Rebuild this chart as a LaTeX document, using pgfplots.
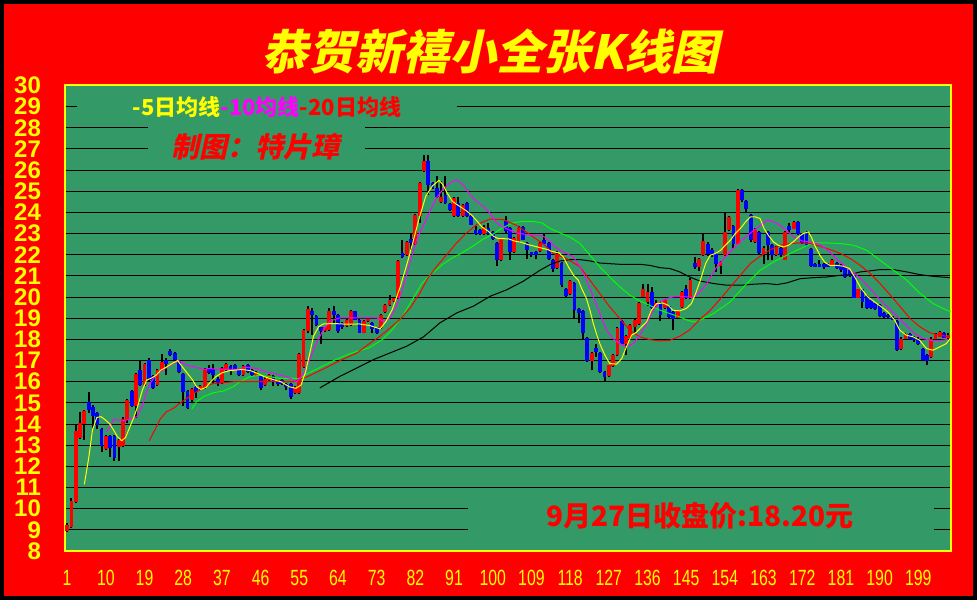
\documentclass[border=0pt]{standalone}
\usepackage{fontspec}
\usepackage{pgfplots}
\usepackage{pgfplotstable}
\pgfplotsset{compat=1.18}
\setmainfont{Liberation Sans}
\newfontfamily\narrowfont[FakeStretch=0.72]{Liberation Sans}
\newfontfamily\cjk{Noto Sans CJK SC}
\newfontfamily\cjkslant[FakeSlant=0.22]{Noto Sans CJK SC}
\definecolor{bgred}{RGB}{255,0,0}
\definecolor{plotgreen}{RGB}{51,153,102}
\definecolor{ylw}{RGB}{255,255,0}
\definecolor{mag}{RGB}{255,0,255}
\definecolor{lgreen}{RGB}{0,255,0}
\definecolor{cblue}{RGB}{0,0,255}

\pgfplotstableread{
n O H L C
1 8.95 9.30 8.90 9.25
2 9.15 10.50 9.10 10.35
3 10.30 13.95 10.25 13.65
4 13.35 14.55 13.30 14.05
5 14.00 14.65 13.25 14.60
6 15.05 15.50 14.50 14.65
7 14.80 14.90 13.80 14.40
8 14.50 14.55 13.75 13.95
9 13.75 13.80 12.70 12.95
10 12.80 13.50 12.75 13.45
11 13.45 13.50 12.45 12.85
12 13.45 13.50 12.25 12.40
13 12.90 13.30 12.25 13.25
14 12.95 14.35 12.90 14.25
15 14.20 15.20 14.05 15.15
16 15.55 15.60 14.80 14.85
17 14.85 16.40 14.30 16.35
18 16.55 17.00 15.80 15.85
19 15.85 16.90 15.80 16.85
20 17.05 17.10 16.05 16.10
21 16.25 16.30 15.65 15.70
22 15.85 16.60 15.80 16.55
23 16.55 17.30 16.50 16.95
24 17.05 17.10 16.30 16.85
25 17.45 17.55 17.20 17.25
26 17.35 17.40 17.00 17.05
27 17.00 17.05 16.40 16.45
28 16.35 16.40 14.85 15.50
29 15.55 15.60 14.70 14.75
30 15.15 15.70 15.00 15.65
31 15.75 15.80 15.25 15.50
32 15.65 15.85 15.60 15.80
33 15.70 16.65 15.65 16.60
34 16.65 16.80 16.35 16.40
35 16.60 16.85 15.95 16.30
36 16.15 16.20 15.80 15.95
37 15.95 16.70 15.90 16.65
38 16.55 16.90 16.50 16.85
39 16.75 16.80 16.30 16.50
40 16.80 16.85 16.55 16.60
41 16.55 16.60 16.25 16.30
42 16.30 16.80 16.25 16.75
43 16.80 16.85 16.40 16.45
44 16.55 16.60 16.25 16.30
45 16.30 16.50 16.25 16.45
46 16.25 16.30 15.60 15.70
47 15.85 16.20 15.80 16.15
48 16.10 16.35 16.05 16.30
49 16.25 16.30 15.80 16.00
50 16.05 16.10 15.80 15.90
51 16.10 16.15 15.85 15.90
52 15.90 15.95 15.60 15.75
53 15.90 15.95 15.20 15.30
54 15.45 15.80 15.40 15.75
55 15.45 17.35 15.40 17.30
56 16.70 18.50 16.65 18.45
57 18.39 19.57 18.30 19.44
58 19.33 19.50 18.23 19.14
59 19.09 19.15 18.62 18.70
60 18.57 18.60 17.80 18.39
61 18.39 18.60 18.35 18.57
62 18.46 19.49 18.40 19.33
63 19.33 19.57 18.78 19.17
64 19.17 19.20 18.31 18.39
65 18.78 18.80 18.50 18.59
66 18.62 19.00 18.60 18.94
67 18.70 19.40 18.65 19.33
68 19.33 19.35 18.90 18.94
69 18.94 18.95 18.30 18.31
70 18.31 18.90 18.30 18.86
71 18.86 19.00 18.80 18.98
72 18.78 18.80 18.31 18.50
73 18.57 18.60 18.25 18.31
74 18.54 19.20 18.50 19.17
75 19.28 19.65 19.25 19.61
76 19.61 20.12 19.60 19.88
77 19.80 20.00 19.75 19.96
78 19.96 21.75 19.90 21.69
79 22.09 22.72 21.85 21.90
80 22.00 22.65 21.95 22.59
81 22.75 23.03 22.24 22.56
82 22.51 23.95 22.45 23.90
83 23.82 25.45 23.50 25.39
84 25.94 26.73 25.90 26.42
85 26.42 26.73 24.84 25.31
86 25.39 25.45 25.10 25.16
87 25.16 25.71 24.70 24.73
88 24.48 25.47 24.45 24.73
89 24.84 25.74 24.40 24.45
90 24.40 24.45 24.05 24.10
91 23.82 24.75 23.80 24.69
92 24.45 24.73 23.80 23.85
93 23.85 24.40 23.80 24.37
94 24.45 24.50 23.80 23.85
95 23.85 23.90 23.40 23.43
96 23.16 23.35 22.95 22.97
97 23.16 23.20 22.95 22.97
98 23.00 23.43 22.95 23.31
99 23.27 23.50 22.95 23.00
100 23.06 23.10 22.70 22.76
101 22.56 22.60 21.49 21.77
102 21.77 22.80 21.70 22.75
103 23.58 23.82 23.05 23.10
104 23.27 23.30 21.77 22.12
105 22.12 22.85 22.10 22.80
106 22.64 23.38 22.60 23.27
107 23.31 23.35 22.70 22.72
108 22.56 22.60 21.80 22.21
109 22.12 22.15 21.90 21.98
110 22.15 22.20 21.80 21.98
111 22.20 22.60 22.15 22.56
112 22.72 22.97 22.50 22.53
113 22.56 22.60 21.75 21.80
114 21.74 21.80 21.19 21.35
115 21.38 22.20 21.35 22.05
116 21.60 21.65 20.50 20.56
117 20.40 20.45 20.00 20.04
118 20.13 20.80 20.10 20.75
119 20.67 20.70 18.98 19.38
120 19.46 19.50 18.78 19.25
121 19.35 19.40 18.04 18.28
122 18.07 18.10 16.95 16.98
123 16.98 17.40 16.54 17.36
124 17.60 17.80 17.17 17.41
125 17.36 17.40 16.40 16.46
126 16.46 16.50 15.99 16.20
127 16.26 16.80 16.20 16.78
128 16.73 17.30 16.70 17.25
129 17.25 18.60 17.20 18.54
130 18.86 18.90 17.75 17.80
131 17.80 18.20 17.25 18.15
132 18.07 18.75 18.00 18.70
133 18.59 19.00 18.30 18.94
134 18.75 19.75 18.70 19.70
135 20.00 20.60 19.95 20.37
136 19.77 20.60 19.60 20.24
137 20.24 20.50 19.45 19.50
138 19.60 19.85 19.55 19.70
139 19.70 19.75 18.87 19.14
140 19.50 19.90 19.45 19.85
141 19.57 19.60 19.00 19.06
142 19.30 19.35 18.43 18.98
143 19.00 19.40 18.95 19.38
144 19.54 20.30 19.50 20.24
145 20.37 20.55 19.90 19.96
146 19.96 20.90 19.90 20.83
147 21.60 21.90 21.35 21.40
148 21.40 21.85 21.25 21.80
149 22.00 22.97 21.95 22.64
150 22.53 22.60 21.95 22.02
151 22.24 22.30 21.90 21.98
152 22.05 22.10 21.20 21.55
153 21.47 21.70 21.08 21.66
154 22.00 23.98 21.95 23.08
155 23.16 23.85 23.10 23.79
156 23.35 23.40 22.30 22.53
157 22.53 25.10 22.50 25.05
158 25.05 25.10 24.50 24.57
159 24.53 24.60 24.02 24.18
160 23.87 23.95 22.60 22.69
161 22.60 23.25 22.55 23.19
162 23.08 23.10 22.05 22.09
163 22.06 22.40 21.58 22.34
164 23.08 23.10 21.74 22.45
165 22.45 22.50 21.76 21.98
166 21.98 22.40 21.95 22.37
167 22.30 22.35 21.90 21.98
168 21.77 23.10 21.75 23.08
169 23.35 23.50 23.00 23.16
170 23.24 23.60 23.20 23.55
171 23.55 23.60 22.95 23.00
172 23.00 23.05 22.50 22.56
173 23.08 23.10 22.40 22.45
174 22.26 22.30 21.40 21.46
175 21.58 21.60 21.40 21.43
176 21.58 21.75 21.40 21.43
177 21.55 21.60 21.35 21.40
178 21.58 21.60 21.40 21.43
179 21.50 21.80 21.45 21.74
180 21.61 21.65 21.35 21.39
181 21.50 21.55 21.20 21.27
182 21.43 21.45 20.90 20.95
183 21.27 21.30 20.95 20.98
184 21.03 21.05 19.95 19.98
185 19.98 20.40 19.95 20.37
186 20.37 20.40 19.50 19.77
187 20.04 20.10 19.45 19.50
188 19.85 19.90 19.45 19.50
189 19.70 19.75 19.40 19.46
190 19.61 19.65 19.05 19.11
191 19.25 19.30 19.00 19.06
192 19.14 19.20 19.00 19.06
193 19.06 19.10 18.90 18.94
194 18.86 18.90 17.45 17.49
195 17.57 18.10 17.50 18.04
196 18.04 18.30 18.00 18.24
197 18.24 18.30 18.00 18.04
198 18.12 18.15 17.90 17.96
199 18.04 18.10 17.75 17.80
200 17.54 17.60 17.00 17.02
201 17.25 17.30 16.78 16.98
202 17.17 18.10 17.10 18.04
203 18.04 18.30 18.00 18.27
204 18.12 18.40 18.10 18.35
205 18.30 18.35 18.05 18.09
206 18.05 18.30 18.00 18.20
}\kdata

\pgfplotstableread{
x y
5 11.15
6 12.38
6.9 13.72
7.9 14.31
8.9 14.35
9.9 14.19
10.8 14.03
11.8 13.72
12.7 13.40
13.7 13.21
14.6 13.37
15.6 13.87
16.5 14.31
17.5 14.90
18.5 15.60
19.5 16.08
20.5 16.16
21.7 16.31
22.8 16.55
24 16.68
25.5 16.87
26.7 17.00
27.8 16.70
29 16.39
30.2 16.08
31.1 15.76
32.1 15.64
33.3 15.73
34.4 16.00
35.6 16.24
37.1 16.43
38.7 16.52
40.2 16.55
41.8 16.58
43.7 16.52
45.3 16.39
46.8 16.24
48.8 16.11
50.7 16.00
52.7 15.76
54.2 15.69
55.4 15.84
56.5 16.50
57.5 17.40
58.3 18.15
59.5 18.60
60.6 18.73
63 18.75
66 18.72
69 18.73
71.5 18.65
73.8 18.50
75.2 18.86
76.6 19.40
78.5 20.50
80.1 21.60
81.6 22.72
82.8 23.66
84.4 24.76
85.9 25.24
87.5 25.52
88.4 25.31
89.4 24.92
90.6 24.53
91.7 24.37
92.9 24.21
94 24.06
95.2 23.85
96.4 23.58
97.5 23.31
99 23.11
100.2 22.87
101.3 22.76
102.5 22.76
103.7 22.75
105.2 22.64
106.5 22.60
108.2 22.48
109.8 22.40
111.3 22.32
112.9 22.24
113.4 22.18
115.4 22.09
116.4 21.90
117.6 21.43
118.8 21.03
119.9 20.80
120.7 20.40
121.8 19.93
122.6 19.38
123.4 18.75
124.1 18.28
124.9 17.80
126.1 17.25
127.2 16.86
128.8 16.83
130 17.09
131.1 17.65
132.3 18.20
133.5 18.35
134.6 18.59
135.8 18.83
136.9 19.38
138.1 19.69
139.6 19.72
140.8 19.61
141.9 19.38
143.5 19.35
145 19.46
146.2 19.69
147.2 20.17
148.3 20.80
149.5 21.58
150.6 21.98
151.8 22.06
153 22.21
154.1 22.45
155.3 22.69
156.4 23.00
157.6 23.24
158.8 23.55
159.9 23.79
161.1 23.79
162.2 23.71
163.1 23.24
164.1 22.92
165.3 22.61
166.4 22.45
167.6 22.37
168.8 22.45
169.9 22.61
171.1 22.84
172.2 23.00
173.4 23.08
174.1 22.84
174.9 22.45
176.1 21.98
177.2 21.66
178.4 21.50
179.9 21.50
181.5 21.46
183 21.35
184.2 20.95
185.7 20.40
187.3 20.00
188.8 19.77
190.4 19.54
191.9 19.30
193.5 18.91
194.7 18.43
196.2 18.20
197.8 18.12
199.3 17.96
200.9 17.57
202.4 17.49
204 17.65
205.5 17.80
206.4 18.04
}\maA

\pgfplotstableread{
x y
10.1 13.64
11 13.87
11.8 14.22
12.9 14.19
14.4 14.16
16 14.27
17.2 14.35
18.4 14.82
19.4 15.45
20.3 15.92
21.5 16.27
22.6 16.47
24.2 16.68
25.7 16.87
26.9 17.00
28 16.87
29.6 16.74
31.1 16.68
32.7 16.58
34.2 16.63
35.7 16.58
38 16.58
40.4 16.58
42.7 16.68
45 16.63
47.3 16.47
49.7 16.36
52 16.24
54.4 16.00
55.9 16.35
57.4 17.05
59 17.83
60.6 18.46
62.1 18.86
64.4 19.02
66.8 19.02
69.1 19.02
71.4 19.02
73 19.02
74.5 18.86
76.1 19.02
77.6 19.57
79.2 20.51
80.7 21.61
82.3 22.72
83.8 23.35
85.4 24.06
86.9 24.69
88.5 25.11
90 25.39
91.6 25.55
93.1 25.31
94.7 24.84
96.2 24.53
97.8 24.29
99.3 23.98
100.9 23.50
102.4 23.31
104 23.16
105.5 23.03
107.1 22.98
108.6 22.95
110.2 22.92
111.7 22.88
113.2 22.66
114.1 22.45
115.6 22.21
117.2 22.06
118.7 21.90
120.3 21.43
121.8 20.80
123.4 20.01
124.9 19.22
126.5 18.43
128 18.04
129.6 17.80
131.1 17.65
132.7 17.80
134.2 18.20
135.8 18.75
137.3 19.38
138.9 19.77
140.4 19.93
142 20.01
143.5 20.04
145.1 20.01
146.6 19.98
148.2 20.24
150 20.70
152 21.40
155 22.10
158 22.70
161 23.20
164 23.65
166 23.50
168 23.20
170 22.85
172 22.65
174 22.60
176 22.50
178 22.20
180 21.80
182 21.45
184 21.15
186 20.80
188 20.35
190 19.90
192 19.50
194 19.10
196 18.70
198 18.30
200 18.05
202 17.95
204 17.95
206 18.00
}\maB

\pgfplotstableread{
x y
20.1 13.21
21.4 13.72
22.6 14.22
24.1 14.58
25.7 14.74
27.2 14.98
28.8 15.21
30.3 15.45
31.9 15.61
33.4 15.80
35 15.92
37.3 15.95
39.6 16.00
41.9 16.00
44.2 16.00
46.6 16.00
48.9 16.00
51.2 16.00
53.6 16.00
57 16.25
60.6 16.60
64.5 17.00
68.4 17.36
71.5 17.83
73.8 18.15
76.1 18.54
78.4 18.94
80.8 19.49
83.1 20.20
84.7 20.83
87 21.46
89.3 22.01
91.6 22.56
93.9 23.03
96.3 23.43
99.4 23.69
102.5 23.66
105.6 23.38
108.7 22.95
111.8 22.50
114.1 22.06
117.2 21.82
120.3 21.43
122.6 20.80
124.9 20.17
127.2 19.54
129.6 18.98
131.9 18.43
134.2 18.12
136.5 17.99
138.9 17.93
141.2 17.96
143.5 18.15
145.8 18.45
148.2 18.95
150.6 19.38
153 19.93
155.3 20.48
157.6 21.03
159.9 21.58
162.2 21.93
164.6 22.24
166.9 22.45
169.2 22.53
171.6 22.56
173.9 22.53
176.2 22.40
178.5 22.24
180.9 22.06
183.2 21.82
185.5 21.50
187.8 21.11
190.1 20.64
192.5 20.09
194.8 19.54
197.1 18.98
199.4 18.59
201.7 18.31
204 18.20
206.3 18.12
}\maC

\pgfplotstableread{
x y
30 14.71
31.1 15.06
32.7 15.29
35 15.48
37.3 15.56
39.6 15.76
41.2 16.00
43.5 16.24
45.8 16.31
48.1 16.24
50.5 16.16
52.8 16.16
55.1 16.15
56.5 16.35
59.6 16.65
63.5 17.05
67.3 17.36
71.2 17.60
74.3 17.99
76.6 18.46
79 19.09
81.3 19.88
83.6 20.67
86 21.14
88.3 21.54
90.6 21.85
92.9 22.09
95.3 22.40
97.6 22.72
99.9 22.95
102.2 23.27
104.6 23.50
106.9 23.58
109.2 23.58
111.5 23.50
113.4 23.24
115.7 23.03
118 22.84
120.3 22.53
122.6 21.98
124.9 21.43
127.2 20.95
129.6 20.48
131.9 20.09
134.2 19.82
136.5 19.61
138.9 19.38
141.2 19.22
143.5 19.06
145.8 18.87
147.4 18.83
151.3 19.22
155.2 19.77
159.1 20.64
162.2 21.27
165.3 21.66
168.4 21.98
171.5 22.29
174.6 22.56
177.7 22.56
180.8 22.53
183.9 22.45
187 22.21
190.1 21.74
193.2 21.27
196.3 20.80
199.4 20.17
202.5 19.69
204.8 19.46
206.5 19.30
}\maD

\pgfplotstableread{
x y
59.8 15.71
64.5 16.26
68.4 16.65
72.3 17.05
76.1 17.36
80 17.68
83.9 18.12
87.7 18.78
91.6 19.25
95.5 19.57
99.4 20.04
103.3 20.35
107.1 20.75
111 21.27
113.4 21.54
115.7 21.71
118 21.77
120.3 21.77
122.6 21.71
124.9 21.61
127.2 21.58
129.6 21.55
131.9 21.55
134.2 21.55
136.5 21.50
138.9 21.39
141.2 21.35
143.5 21.19
145.8 20.95
148.2 20.76
151.4 20.64
154.5 20.56
157.6 20.56
160.7 20.61
163.8 20.64
166.1 20.59
168.4 20.67
171.5 20.87
174.6 20.92
177.7 20.95
180.8 21.03
183.1 21.06
185.5 21.19
187.8 21.24
190.1 21.30
193.2 21.30
196.3 21.19
199.4 21.06
202.5 20.98
206.3 20.92
}\maE

\begin{document}
\begin{tikzpicture}
\fill[black] (0pt,0pt) rectangle (488.5pt,300pt);
\fill[bgred] (2pt,2pt) rectangle (486.5pt,298pt);
\begin{axis}[
  at={(32.5pt,24.5pt)}, anchor=south west,
  scale only axis, width=443pt, height=232.75pt,
  xmin=0.5, xmax=206.6, ymin=8, ymax=30,
  axis background/.style={fill=plotgreen},
  axis line style={ylw, line width=1pt},
  ytick={8,...,30}, xtick={1,10,...,199},
  ymajorgrids, grid style={black, line width=0.5pt},
  tick style={draw=none},
  /pgf/number format/assume math mode=true,
  yticklabel style={font=\fontsize{12}{12}\selectfont\bfseries, text=ylw, xshift=-8.5pt},
  xticklabel style={font=\narrowfont\fontsize{11}{11}\selectfont, text=ylw, yshift=-6pt},
]
% wicks
\addplot[draw=none, mark=none, forget plot,
  error bars/.cd, y dir=plus, y explicit, error mark=none,
  error bar style={draw=black, line width=1pt}]
  table[x=n, y=L, y error expr=\thisrow{H}-\thisrow{L}] {\kdata};
% rising bodies
\addplot[draw=none, mark=none, forget plot,
  restrict expr to domain={\thisrow{C}-\thisrow{O}}{0:100},
  error bars/.cd, y dir=plus, y explicit, error mark=none,
  error bar style={draw=red, line width=1.9pt}]
  table[x=n, y=O, y error expr=\thisrow{C}-\thisrow{O}] {\kdata};
% falling bodies
\addplot[draw=none, mark=none, forget plot,
  restrict expr to domain={\thisrow{O}-\thisrow{C}}{0.0001:100},
  error bars/.cd, y dir=plus, y explicit, error mark=none,
  error bar style={draw=cblue, line width=1.9pt}]
  table[x=n, y=C, y error expr=\thisrow{O}-\thisrow{C}] {\kdata};
% moving averages
\addplot[black, line width=0.5pt, mark=none] table {\maE};
\addplot[lgreen, line width=0.5pt, mark=none] table {\maD};
\addplot[red, line width=0.5pt, mark=none] table {\maC};
\addplot[mag, line width=0.5pt, mark=none] table {\maB};
\addplot[ylw, line width=0.5pt, mark=none] table {\maA};
\end{axis}
% title
\node[text=ylw, font=\cjkslant\bfseries\fontsize{23.5}{23.5}\selectfont] at (245pt,274pt) {恭贺新禧小全张K线图};
% legend
\fill[plotgreen] (38.5pt,240pt) rectangle (228.5pt,253pt);
\node[font=\cjk\bfseries\fontsize{11}{11}\selectfont] at (133.5pt,246.5pt)
  {\textcolor{ylw}{-5日均线}\textcolor{mag}{-10均线}\textcolor{red}{-20日均线}};
% author
\fill[plotgreen] (74pt,220pt) rectangle (182.5pt,240pt);
\node[text=red, font=\cjkslant\bfseries\fontsize{14}{14}\selectfont] at (127.5pt,226.5pt) {制图：特片璋};
% closing price
\fill[plotgreen] (234pt,30pt) rectangle (467pt,51pt);
\node[text=red, font=\cjk\bfseries\fontsize{14}{14}\selectfont] at (350pt,42pt) {9月27日收盘价:18.20元};
\end{tikzpicture}
\end{document}
